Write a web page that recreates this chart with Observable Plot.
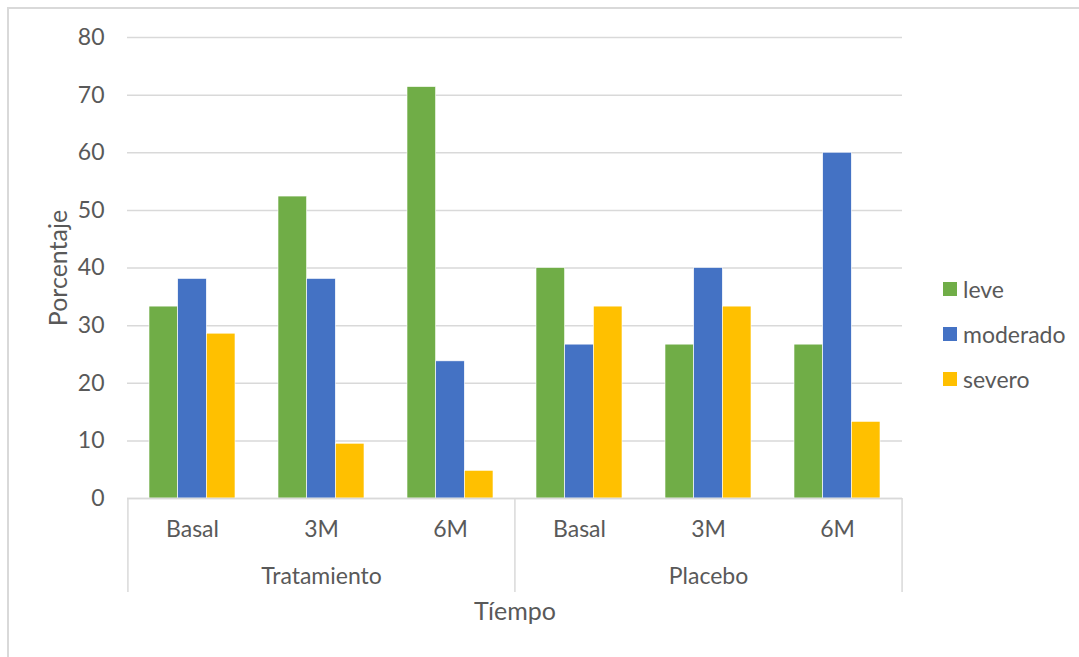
<!DOCTYPE html>
<html>
<head>
<meta charset="utf-8">
<script src="https://cdn.jsdelivr.net/npm/d3@7"></script>
<script src="https://cdn.jsdelivr.net/npm/@observablehq/plot@0.6"></script>
<style>
  html, body { margin: 0; padding: 0; background: #fff; }
  #chart { position: relative; width: 1079px; height: 657px; overflow: hidden; font-family: Lato, "Open Sans", sans-serif; color: #595959; }
  #frame { position: absolute; left: 7px; top: 7px; width: 1200px; height: 800px; border-left: 2px solid #d9d9d9; border-top: 2px solid #d9d9d9; box-sizing: border-box; }
  #chart svg { position: absolute; left: 0; top: 0; }
  #legend { position: absolute; left: 943px; top: 266px; }
  #legend .item { display: flex; align-items: center; height: 45px; font-size: 23px; }
  #legend .sw { width: 14px; height: 14px; margin-right: 6px; }
</style>
</head>
<body>
<div id="chart"><div id="frame"></div></div>
<script>
// Severity distribution (%) by group and time point
const grupos = ["Tratamiento", "Placebo"];
const tiempos = ["Basal", "3M", "6M"];
const severidades = ["leve", "moderado", "severo"];
const leve     = [33.3, 52.4, 71.4, 40.0, 26.7, 26.7];
const moderado = [38.1, 38.1, 23.8, 26.7, 40.0, 60.0];
const severo   = [28.6,  9.5,  4.8, 33.3, 33.3, 13.3];
const colores = ["#70AD47", "#4472C4", "#FFC000"];
const yTicks = [0, 10, 20, 30, 40, 50, 60, 70, 80];
const tituloY = "Porcentaje";
const tituloX = "Tíempo";

// One category per group/time pair, then one row per severity
const categorias = grupos.flatMap(g => tiempos.map(t => ({grupo: g, tiempo: t, clave: `${g}|${t}`})));
const valores = {leve, moderado, severo};
const filas = severidades.flatMap(s => categorias.map((c, i) => ({...c, severidad: s, valor: valores[s][i]})));

// Layout
const W = 1079, H = 657;
const mL = 127, mR = 177, mT = 37, mB = 159;
const padIn = 1 / 3, padOut = 1 / 6;
const n = categorias.length;
const step = (W - mL - mR) / (n - padIn + 2 * padOut);
const bw = step * (1 - padIn);
const sw = bw / severidades.length;
const gris = "#d9d9d9";
const fs = 23;      // tick and category labels
const fsTitle = 25; // axis titles

const chart = Plot.plot({
  width: W,
  height: H,
  marginLeft: mL,
  marginRight: mR,
  marginTop: mT,
  marginBottom: mB,
  style: {fontFamily: "Lato, 'Open Sans', sans-serif", fontSize: `${fs}px`, color: "#595959", background: "transparent", overflow: "visible"},
  x: {domain: categorias.map(c => c.clave), paddingInner: padIn, paddingOuter: padOut, axis: null},
  y: {domain: [0, 80], axis: null},
  color: {domain: severidades, range: colores},
  marks: [
    Plot.gridY(yTicks, {stroke: gris, strokeOpacity: 1, strokeWidth: 1.5}),
    Plot.axisY(yTicks, {tickSize: 0, tickPadding: 23, label: null, fontSize: fs}),
    // clustered bars: each severity occupies one third of its category band
    ...severidades.map((s, k) => Plot.barY(filas.filter(d => d.severidad === s), {
      x: "clave",
      y: "valor",
      fill: "severidad",
      insetLeft: k * sw,
      insetRight: (severidades.length - 1 - k) * sw,
      stroke: "white",
      strokeWidth: 0.6
    })),
    Plot.ruleY([0], {stroke: gris, strokeWidth: 1.5}),
    // group separators below the baseline
    Plot.ruleX(grupos.map(g => `${g}|${tiempos[0]}`), {x: d => d, y1: 0, y2: 0, insetBottom: -94, dx: -step / 2, stroke: gris, strokeWidth: 1.5}),
    Plot.ruleX([`${grupos[grupos.length - 1]}|${tiempos[tiempos.length - 1]}`], {x: d => d, y1: 0, y2: 0, insetBottom: -94, dx: step / 2, stroke: gris, strokeWidth: 1.5}),
    // two-level category labels
    Plot.text(categorias, {x: "clave", text: "tiempo", frameAnchor: "bottom", lineAnchor: "middle", dy: 31, fontSize: fs}),
    Plot.text(grupos, {x: g => `${g}|${tiempos[1]}`, text: d => d, frameAnchor: "bottom", lineAnchor: "middle", dy: 78, fontSize: fs}),
    Plot.text([tituloX], {text: d => d, frameAnchor: "bottom", lineAnchor: "middle", dy: 113, fontSize: fsTitle}),
    Plot.text([tituloY], {text: d => d, frameAnchor: "left", textAnchor: "middle", lineAnchor: "middle", rotate: -90, dx: -69, fontSize: fsTitle})
  ]
});

const root = document.getElementById("chart");
root.appendChild(chart);

// Legend built from the plot's color scale
const escala = chart.scale("color");
const leyenda = document.createElement("div");
leyenda.id = "legend";
escala.domain.forEach((s, i) => {
  const item = document.createElement("div");
  item.className = "item";
  const sw = document.createElement("span");
  sw.className = "sw";
  sw.style.background = escala.range[i];
  const lab = document.createElement("span");
  lab.textContent = s;
  item.append(sw, lab);
  leyenda.appendChild(item);
});
root.appendChild(leyenda);
</script>
</body>
</html>
